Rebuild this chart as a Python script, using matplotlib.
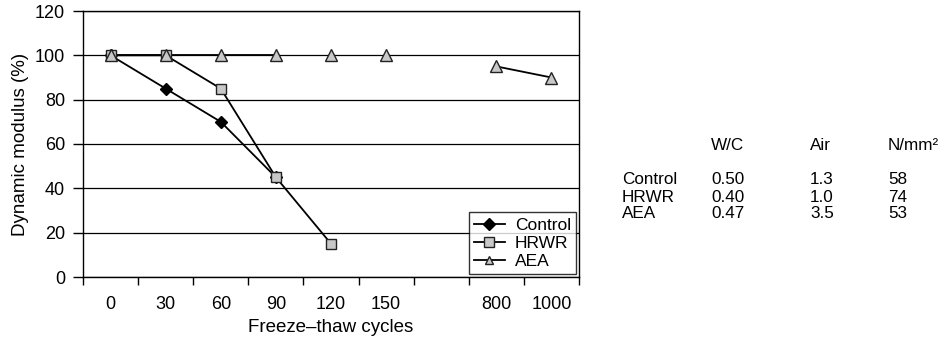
import numpy as np
import matplotlib
matplotlib.use("Agg")
import matplotlib.pyplot as plt

plt.rcParams['font.family'] = ['Liberation Sans', 'DejaVu Sans']

categories = ["0", "30", "60", "90", "120", "150", "", "800", "1000"]
control = [100, 85, 70, 45, None, None, None, None, None]
hrwr = [100, 100, 85, 45, 15, None, None, None, None]
aea = [100, 100, 100, 100, 100, 100, None, 95, 90]
aea_segments = [(0, 4), (7, 9)]  # connected runs (start, stop) of category indices

table_cols = ["", "W/C", "Air", "N/mm²"]
table_rows = [["Control", "0.50", "1.3", "58"],
              ["HRWR", "0.40", "1.0", "74"],
              ["AEA", "0.47", "3.5", "53"]]

def arr(v):
    return np.array([np.nan if x is None else x for x in v], dtype=float)

fig = plt.figure(figsize=(9.5, 3.4), dpi=100)
ax = fig.add_axes([83/950, 1-277/340, (579-83)/950, (277-11)/340])

xc = np.arange(len(categories)) + 0.5
fs_tick = 13
fs_lab = 13.5
fs_leg = 12.5
fs_tab = 12.3

ax.plot(xc, arr(control), color='black', lw=1.3, marker='D', ms=6.5,
        mfc='black', mec='black', label='Control', zorder=3)
ax.plot(xc, arr(hrwr), color='black', lw=1.3, marker='s', ms=7.3,
        mfc='#c8c8c8', mec='#222222', mew=1.0, label='HRWR', zorder=4)
a = arr(aea)
for s, e in aea_segments:
    ax.plot(xc[s:e], a[s:e], color='black', lw=1.3, zorder=3)
ax.plot(xc, a, ls='none', marker='^', ms=8, mfc='#c8c8c8', mec='#222222',
        mew=1.0, zorder=5)
ax.plot([], [], color='black', lw=1.3, marker='^', ms=6, mfc='#c8c8c8',
        mec='#222222', label='AEA')

ax.set_xlim(0, len(categories))
ax.set_ylim(0, 120)
ax.set_yticks(np.arange(0, 121, 20))
ax.yaxis.grid(True, color='black', lw=0.9)
ax.set_axisbelow(True)

ax.set_xticks(np.arange(0, len(categories) + 1))
ax.set_xticklabels([])
ax.set_xticks(xc, minor=True)
ax.set_xticklabels(categories, minor=True)
ax.tick_params(axis='x', which='major', length=6, width=1, direction='out', color='black')
ax.tick_params(axis='x', which='minor', length=0, pad=14, labelsize=fs_tick)
ax.tick_params(axis='y', length=7, width=1, direction='out', labelsize=fs_tick, pad=6)
for sp in ax.spines.values():
    sp.set_color('black')
    sp.set_linewidth(1.0)

ax.set_xlabel("Freeze\u2013thaw cycles", fontsize=fs_lab, labelpad=4)
ax.set_ylabel("Dynamic modulus (%)", fontsize=fs_lab, labelpad=4)

leg = ax.legend(loc='lower right', fontsize=fs_leg, frameon=True, fancybox=False,
                edgecolor='black', handlelength=1.75, handletextpad=0.6,
                borderpad=0.3, labelspacing=0.18, borderaxespad=0.15)
leg.get_frame().set_linewidth(1.0)

col_x = [622, 711, 810, 888]
row_y = [145, 180, 197, 214]
for j, h in enumerate(table_cols):
    if h:
        fig.text(col_x[j]/950, 1-row_y[0]/340, h, fontsize=fs_tab, va='center', ha='left')
for i, row in enumerate(table_rows):
    for j, v in enumerate(row):
        fig.text(col_x[j]/950, 1-row_y[i+1]/340, v, fontsize=fs_tab, va='center', ha='left')

fig.savefig("out.png", dpi=100)
